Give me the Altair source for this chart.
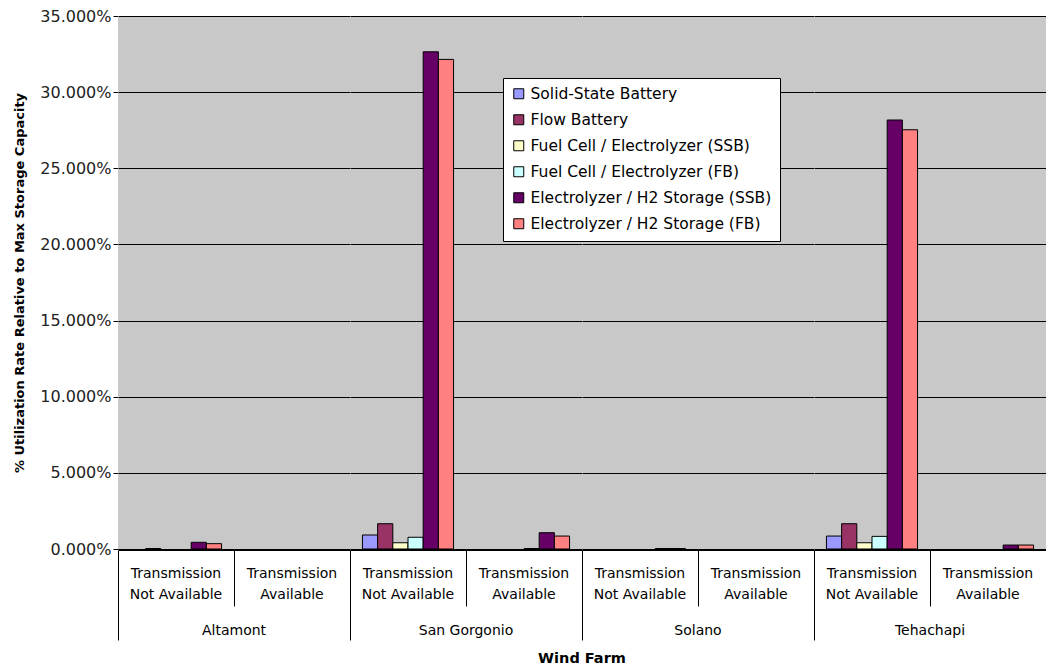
import altair as alt
import pandas as pd

farms = ["Altamont", "San Gorgonio", "Solano", "Tehachapi"]
trans = ["Transmission Not Available", "Transmission Available"]
series = [
    "Solid-State Battery",
    "Flow Battery",
    "Fuel Cell / Electrolyzer (SSB)",
    "Fuel Cell / Electrolyzer (FB)",
    "Electrolyzer / H2 Storage (SSB)",
    "Electrolyzer / H2 Storage (FB)",
]
colors = ["#9999FF", "#993366", "#FFFFCC", "#CCFFFF", "#660066", "#FF8080"]

# values per (farm, transmission) group, in series order (fractions)
altamont_na = [0.0, 0.0003, 0.0, 0.0, 0.0044, 0.0035]
altamont_a = [0.0, 0.0, 0.0, 0.0, 0.0, 0.0]
sangorgonio_na = [0.0092, 0.0166, 0.0041, 0.0077, 0.3265, 0.3215]
sangorgonio_a = [0.0, 0.0, 0.0, 0.0003, 0.0107, 0.0085]
solano_na = [0.0, 0.0, 0.0, 0.0, 0.0003, 0.0003]
solano_a = [0.0, 0.0, 0.0, 0.0, 0.0, 0.0]
tehachapi_na = [0.0085, 0.0166, 0.0041, 0.0083, 0.2817, 0.2753]
tehachapi_a = [0.0, 0.0, 0.0, 0.0, 0.0026, 0.0026]

groups = [
    ("Altamont", trans[0], altamont_na),
    ("Altamont", trans[1], altamont_a),
    ("San Gorgonio", trans[0], sangorgonio_na),
    ("San Gorgonio", trans[1], sangorgonio_a),
    ("Solano", trans[0], solano_na),
    ("Solano", trans[1], solano_a),
    ("Tehachapi", trans[0], tehachapi_na),
    ("Tehachapi", trans[1], tehachapi_a),
]
rows = []
for farm, tr, vals in groups:
    for s, v in zip(series, vals):
        rows.append({"farm": farm, "trans": tr, "series": s, "value": v})
df = pd.DataFrame(rows)

FONT = "DejaVu Sans"
is_na = "datum.value == 'Transmission Not Available'"

base = alt.Chart(df).transform_filter("datum.value > 0").mark_bar(
    stroke="black", strokeWidth=1
).encode(
    x=alt.X(
        "trans:N",
        sort=trans,
        title=None,
        scale=alt.Scale(domain=trans, paddingInner=0, paddingOuter=0),
        axis=alt.Axis(
            bandPosition=0,
            labelAngle=0,
            labelExpr="datum.value == 'Transmission Not Available' ? ['Transmission', 'Not Available'] : ['Transmission', 'Available']",
            labelFont=FONT,
            labelFontSize=14,
            labelColor="black",
            labelLineHeight=21,
            labelBaseline="top",
            tickColor="black",
            tickSize={"condition": {"test": is_na, "value": 90}, "value": 56},
            labelPadding={"condition": {"test": is_na, "value": -74}, "value": -40},
            domainColor="black",
        ),
    ),
    xOffset=alt.XOffset(
        "series:N",
        sort=series,
        scale=alt.Scale(domain=series, paddingInner=0, paddingOuter=0.82),
    ),
    y=alt.Y(
        "value:Q",
        scale=alt.Scale(domain=[0, 0.35], nice=False),
        axis=alt.Axis(
            format=".3%",
            values=[0, 0.05, 0.10, 0.15, 0.20, 0.25, 0.30, 0.35],
            title="% Utilization Rate Relative to Max Storage Capacity",
            titleFont=FONT,
            titleFontSize=13,
            titleFontWeight="bold",
            titleColor="black",
            titlePadding=13,
            labelFont=FONT,
            labelFontSize=16,
            labelColor="#222222",
            grid=True,
            gridColor="black",
            gridWidth=1,
            gridOpacity=1,
            tickColor="black",
            domainColor="black",
        ),
    ),
    color=alt.Color(
        "series:N",
        sort=series,
        scale=alt.Scale(domain=series, range=colors),
        legend=alt.Legend(
            title=None,
            orient="none",
            legendX=385,
            legendY=62,
            fillColor="white",
            strokeColor="black",
            padding=8,
            symbolType="square",
            symbolSize=100,
            symbolStrokeColor="black",
            symbolStrokeWidth=1,
            labelFont=FONT,
            labelFontSize=15.5,
            labelColor="black",
            labelOffset=4,
            rowPadding=9,
            labelLimit=400,
        ),
    ),
).properties(width=232, height=533)

chart = base.facet(
    column=alt.Column(
        "farm:N",
        sort=farms,
        title="Wind Farm",
        header=alt.Header(
            labelOrient="bottom",
            titleOrient="bottom",
            labelFont=FONT,
            labelFontSize=14,
            labelColor="black",
            labelPadding=-17,
            titleFont=FONT,
            titleFontSize=14.5,
            titleFontWeight="bold",
            titleColor="black",
            titlePadding=1,
        ),
    ),
    spacing=0,
).configure_view(
    fill="#C8C8C8", stroke=None
).properties(padding={"left": 5, "right": 0, "top": 0, "bottom": 0})

chart.save("out.html", embed_options={"renderer": "svg", "actions": False})
